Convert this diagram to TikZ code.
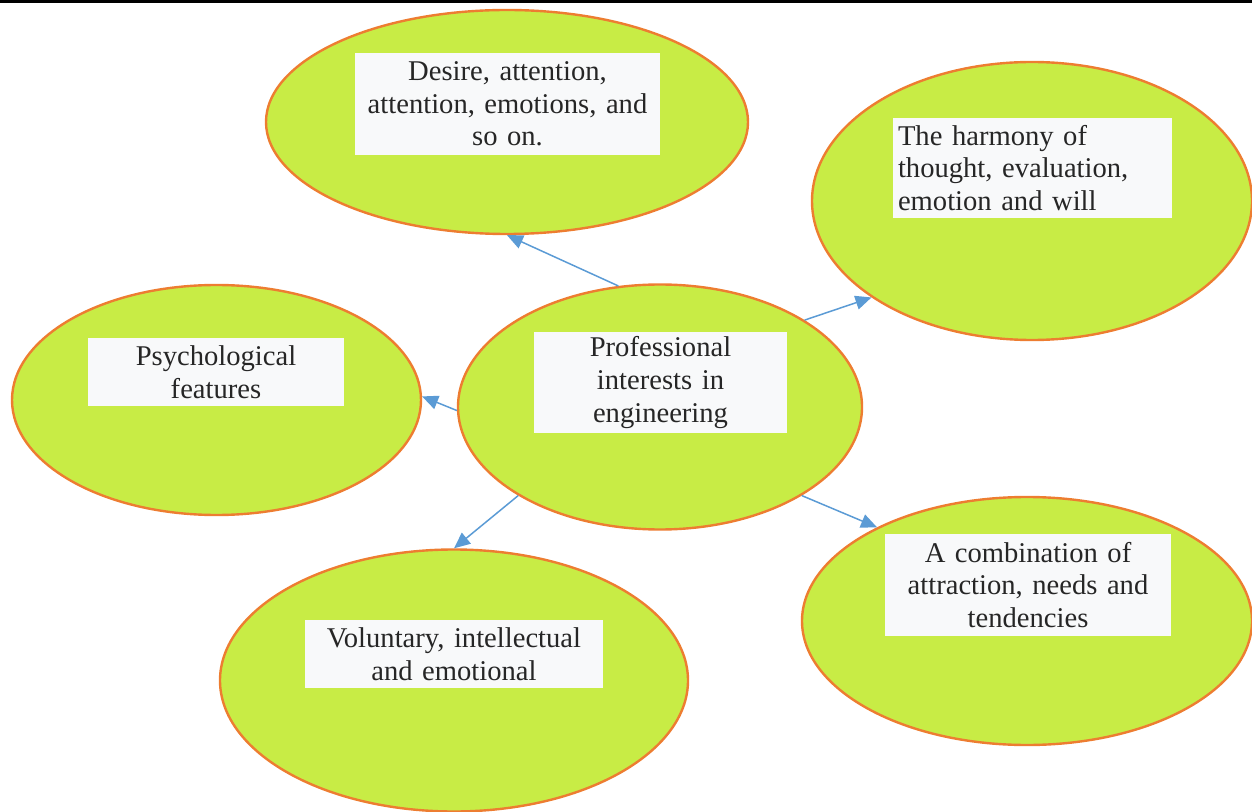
\documentclass[tikz,border=0pt]{standalone}
\usepackage{fontspec}
\setmainfont{Liberation Serif}
\usetikzlibrary{shapes.geometric,arrows.meta}

\definecolor{bubblefill}{RGB}{200,236,69}
\definecolor{bubbleline}{RGB}{237,125,49}
\definecolor{linkblue}{RGB}{91,155,213}
\definecolor{boxfill}{RGB}{248,249,250}
\definecolor{inkgray}{RGB}{38,38,38}

\begin{document}
\begin{tikzpicture}[x=0.5pt, y=-0.5pt,
    bubble/.style={ellipse, draw=bubbleline, fill=bubblefill, line width=1.2pt, inner sep=0pt},
    textbox/.style={rectangle, fill=boxfill, text=inkgray, inner sep=2.5pt, align=center,
        font=\fontsize{14.3}{16.3}\selectfont},
    link/.style={draw=linkblue, line width=0.75pt, -{Triangle[length=8pt,width=7pt]}}]
    \useasboundingbox (0,0) rectangle (1252,812);
    \fill[black] (0,0) rectangle (1252,3);

    % Bubbles
    \node[bubble, minimum width=241pt, minimum height=112pt] (desire) at (507,122) {};
    \node[bubble, minimum width=220pt, minimum height=139pt] (harmony) at (1032,201) {};
    \node[bubble, minimum width=204.5pt, minimum height=115pt] (psych) at (216.5,400) {};
    \node[bubble, minimum width=202pt, minimum height=122.5pt] (hub) at (660,407) {};
    \node[bubble, minimum width=225pt, minimum height=124pt] (combo) at (1027,621) {};
    \node[bubble, minimum width=234pt, minimum height=131pt] (voluntary) at (454,680.5) {};

    % Texts
    \node[textbox, text width=147.5pt, minimum height=51pt] (desiretext) at (507.5,104)
        {Desire, attention,\\ attention, emotions, and\\ so on.};
    \node[textbox, text width=134.5pt, minimum height=50pt, align=left] (harmonytext) at (1032.5,168)
        {The harmony of\\ thought, evaluation,\\ emotion and will};
    \node[textbox, text width=123pt, minimum height=34pt] (psychtext) at (216,372)
        {Psychological\\ features};
    \node[textbox, text width=121.5pt, minimum height=50.5pt] (hubtext) at (660.5,382.5)
        {Professional\\ interests in\\ engineering};
    \node[textbox, text width=138pt, minimum height=51pt] (combotext) at (1028,585)
        {A combination of\\ attraction, needs and\\ tendencies};
    \node[textbox, text width=144pt, minimum height=34pt] (voluntarytext) at (454,654)
        {Voluntary, intellectual\\ and emotional};

    % Links
    \draw[link] (hub.109) -- (desire.270);
    \draw[link] (hub.31) -- (harmony.211);
    \draw[link] (hub.181) -- (psych.1);
    \draw[link] (hub.212) -- (voluntary.90);
    \draw[link] (hub.328) -- (combo.148);
\end{tikzpicture}
\end{document}
